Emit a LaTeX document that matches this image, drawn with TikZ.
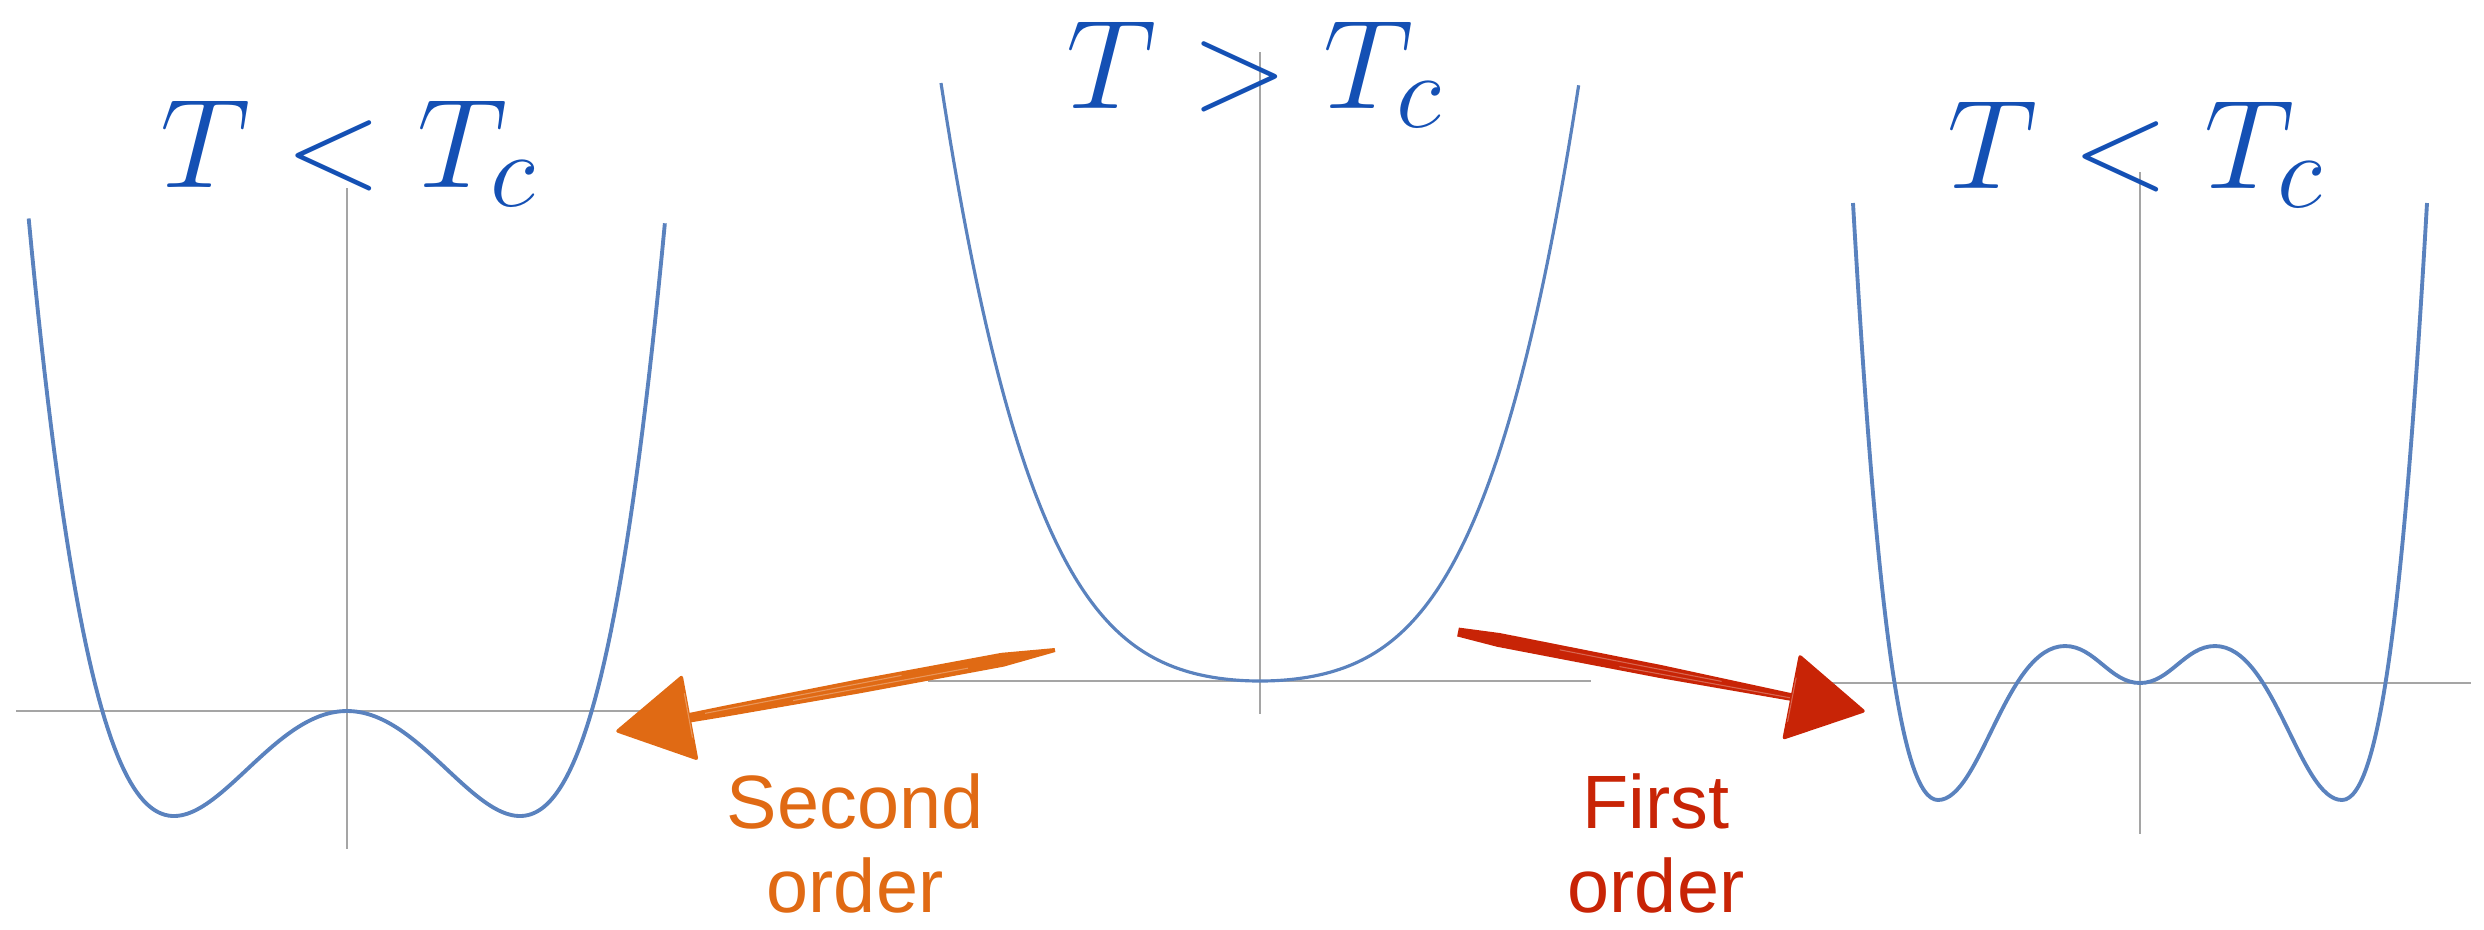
\documentclass[tikz,border=0pt]{standalone}
\usepackage{graphicx}
\usepackage{fontspec}
\newfontfamily\labelfont{Liberation Sans}
\usetikzlibrary{calc}
\definecolor{txtblue}{RGB}{20,80,180}
\definecolor{curveblue}{RGB}{90,130,190}
\definecolor{axisgray}{RGB}{165,165,165}
\definecolor{orangec}{RGB}{224,106,20}
\definecolor{redc}{RGB}{200,36,6}
\newcommand{\bigmath}[1]{\scalebox{1.45}{\fontsize{24.88}{30}\selectfont$#1$}}
\begin{document}
\begin{tikzpicture}[x=0.01cm, y=-0.01cm,
  axis/.style={axisgray, line width=0.6pt},
  pot/.style={curveblue, line width=1.1pt, line join=round},
  temp/.style={txtblue, inner sep=0pt, anchor=base},
  lbl/.style={font=\labelfont\fontsize{21.5}{25}\selectfont, inner sep=0pt, anchor=base},
  streak/.style={white, opacity=0.3, line width=0.3pt},
]
\useasboundingbox (0,0) rectangle (2484,929);

% axes
\draw[axis] (16,711) -- (678,711);
\draw[axis] (347,188) -- (347,849);
\draw[axis] (928,681) -- (1591,681);
\draw[axis] (1260,52) -- (1260,714);
\draw[axis] (1809,683) -- (2471,683);
\draw[axis] (2140,172) -- (2140,834);

% potentials
\draw[pot] plot[domain=-1.84:1.84, samples=201, variable=\u] ({347+173*\u}, {711-105*(\u*\u*\u*\u-2*\u*\u)});
\draw[pot, line width=0.9pt] plot[domain=-1:1, samples=201, variable=\v] ({1260+319*\v}, {681-161*\v*\v-437*\v*\v*\v*\v});
\begin{scope}[shift={(2140,683)}]
\draw[pot] (-287,-480) .. controls (-264,-80) and (-240,117) .. (-202,117)
  .. controls (-159.3,117) and (-134.4,-37) .. (-75,-37)
  .. controls (-45,-37) and (-30,0) .. (0,0)
  .. controls (30,0) and (45,-37) .. (75,-37)
  .. controls (134.4,-37) and (159.3,117) .. (202,117)
  .. controls (240,117) and (264,-80) .. (287,-480);
\end{scope}

% temperature labels
\node[temp] (tl) at (349,187) {\bigmath{T<T_c}};
\node[temp] (tm) at (1255,108) {\bigmath{T>T_c}};
\node[temp] (tr) at (2136,188) {\bigmath{T<T_c}};

% arrows
\coordinate (otail) at (1055,650);
\coordinate (otip) at (618,731);
\coordinate (obase) at ($(otip)!0.72cm!(otail)$);
\coordinate (rtail) at (1458,632);
\coordinate (rtip) at (1863,711);
\coordinate (rbase) at ($(rtip)!0.72cm!(rtail)$);

\fill[orangec] ($(otail)!0.02cm!90:(otip)$)
  -- ($(otail)!0.12!(otip)!0.07cm!90:(otip)$)
  -- ($(otail)!0.45!(otip)!0.07cm!90:(otip)$)
  -- ($(otail)!0.75!(otip)!0.055cm!90:(otip)$)
  -- ($(otail)!0.87!(otip)!0.045cm!90:(otip)$)
  -- ($(otail)!0.87!(otip)!0.045cm!-90:(otip)$)
  -- ($(otail)!0.75!(otip)!0.055cm!-90:(otip)$)
  -- ($(otail)!0.45!(otip)!0.07cm!-90:(otip)$)
  -- ($(otail)!0.12!(otip)!0.07cm!-90:(otip)$)
  -- ($(otail)!0.02cm!-90:(otip)$) -- cycle;
\fill[orangec, draw=orangec, line width=1pt, line join=round] (otip) -- ($(obase)!0.41cm!90:(otip)$) -- ($(obase)!0.41cm!-90:(otip)$) -- cycle;
\draw[streak] ($(otail)!0.2!(otip)!0.02cm!90:(otip)$) -- ($(otail)!0.6!(otip)!0.02cm!90:(otip)$);
\draw[streak] ($(otail)!0.35!(otip)!0.03cm!-90:(otip)$) -- ($(otail)!0.8!(otip)!0.015cm!-90:(otip)$);
\draw[streak] ($(obase)!0.2cm!90:(otip)$) -- ($(obase)!0.25cm!-90:(otip)$);

\fill[redc] ($(rtail)!0.045cm!90:(rtip)$)
  -- ($(rtail)!0.1!(rtip)!0.07cm!90:(rtip)$)
  -- ($(rtail)!0.5!(rtip)!0.065cm!90:(rtip)$)
  -- ($(rtail)!0.8!(rtip)!0.04cm!90:(rtip)$)
  -- ($(rtail)!0.86!(rtip)!0.035cm!90:(rtip)$)
  -- ($(rtail)!0.86!(rtip)!0.035cm!-90:(rtip)$)
  -- ($(rtail)!0.8!(rtip)!0.04cm!-90:(rtip)$)
  -- ($(rtail)!0.5!(rtip)!0.065cm!-90:(rtip)$)
  -- ($(rtail)!0.1!(rtip)!0.07cm!-90:(rtip)$)
  -- ($(rtail)!0.045cm!-90:(rtip)$) -- cycle;
\fill[redc, draw=redc, line width=1pt, line join=round] (rtip) -- ($(rbase)!0.41cm!90:(rtip)$) -- ($(rbase)!0.41cm!-90:(rtip)$) -- cycle;
\draw[streak] ($(rtail)!0.25!(rtip)!0.02cm!90:(rtip)$) -- ($(rtail)!0.65!(rtip)!0.02cm!90:(rtip)$);
\draw[streak] ($(rtail)!0.4!(rtip)!0.03cm!-90:(rtip)$) -- ($(rtail)!0.82!(rtip)!0.01cm!-90:(rtip)$);
\draw[streak] ($(rbase)!0.2cm!90:(rtip)$) -- ($(rbase)!0.25cm!-90:(rtip)$);

% order labels
\node[lbl, text=orangec] (second1) at (855,828) {Second};
\node[lbl, text=orangec] (second2) at (855,912) {order};
\node[lbl, text=redc] (first1) at (1656,828) {First};
\node[lbl, text=redc] (first2) at (1656,912) {order};
\end{tikzpicture}
\end{document}
